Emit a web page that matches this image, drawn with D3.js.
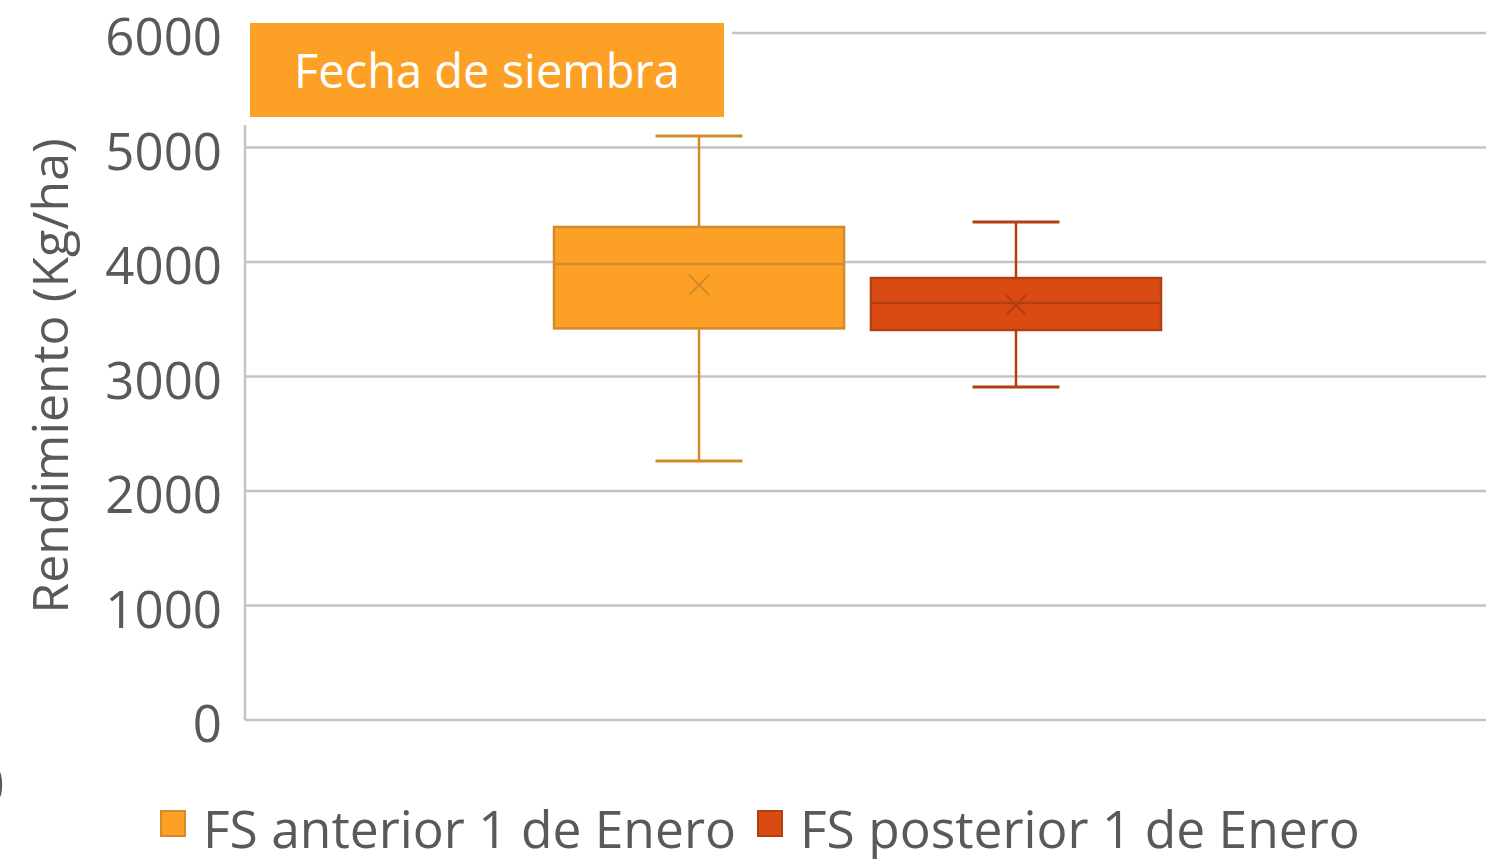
<!DOCTYPE html>
<meta charset="utf-8">
<script src="https://d3js.org/d3.v7.min.js"></script>
<style>
  body { margin: 0; background: #fff; }
  text { font-family: "Open Sans", "Noto Sans", sans-serif; }
</style>
<div id="my_dataviz"></div>
<script>

// data
var series = ["FS anterior 1 de Enero", "FS posterior 1 de Enero"];
var mins    = [2262, 2908];
var q1s     = [3420, 3406];
var medians = [3983, 3642];
var means   = [3799, 3624];
var q3s     = [4306, 3860];
var maxs    = [5100, 4349];
var yTicks  = [0, 1000, 2000, 3000, 4000, 5000, 6000];
var fills   = ["#fca026", "#da4b14"];
var strokes = ["#d38a2b", "#b23f10"];

var width = 1486, height = 859;

var svg = d3.select("#my_dataviz")
  .append("svg")
    .attr("width", width)
    .attr("height", height);

// y scale
var y = d3.scaleLinear()
  .domain([0, 6000])
  .range([720, 33]);

// x scale for the two series inside the single category
var x = d3.scaleBand()
  .domain(series)
  .range([554, 1161])
  .paddingInner(0.085);

// gridlines
svg.selectAll("grid")
  .data(yTicks)
  .enter()
  .append("line")
    .attr("x1", 245)
    .attr("x2", width)
    .attr("y1", function(d) { return y(d) })
    .attr("y2", function(d) { return y(d) })
    .attr("stroke", "#c4c4c4")
    .attr("stroke-width", 2.5);

// left axis line
svg.append("line")
  .attr("x1", 245).attr("x2", 245)
  .attr("y1", 125).attr("y2", y(0))
  .attr("stroke", "#c4c4c4")
  .attr("stroke-width", 2.5);

// y tick labels
svg.selectAll("ylab")
  .data(yTicks)
  .enter()
  .append("text")
    .attr("x", 222)
    .attr("y", function(d) { return y(d) + 22 })
    .attr("text-anchor", "end")
    .attr("font-size", 51)
    .attr("fill", "#595959")
    .text(function(d) { return d });

// y axis title
svg.append("text")
  .attr("transform", "translate(68,376) rotate(-90)")
  .attr("text-anchor", "middle")
  .attr("font-size", 50)
  .attr("fill", "#595959")
  .text("Rendimiento (Kg/ha)");

// cut-off glyph at left edge
svg.append("text")
  .attr("x", -26)
  .attr("y", 804)
  .attr("font-size", 54)
  .attr("fill", "#595959")
  .text("0");

// boxes
var data = series.map(function(s, i) {
  return {name: s, min: mins[i], q1: q1s[i], med: medians[i], mean: means[i], q3: q3s[i], max: maxs[i], fill: fills[i], stroke: strokes[i]};
});

var g = svg.selectAll("box")
  .data(data)
  .enter()
  .append("g");

// whiskers
g.append("line")
  .attr("x1", function(d) { return x(d.name) + x.bandwidth() / 2 })
  .attr("x2", function(d) { return x(d.name) + x.bandwidth() / 2 })
  .attr("y1", function(d) { return y(d.max) })
  .attr("y2", function(d) { return y(d.min) })
  .attr("stroke", function(d) { return d.stroke })
  .attr("stroke-width", 2.5);

g.selectAll("cap")
  .data(function(d) { return [d.min, d.max].map(function(v) { return {v: v, d: d} }) })
  .enter()
  .append("line")
    .attr("x1", function(c) { return x(c.d.name) + x.bandwidth() * 0.35 })
    .attr("x2", function(c) { return x(c.d.name) + x.bandwidth() * 0.65 })
    .attr("y1", function(c) { return y(c.v) })
    .attr("y2", function(c) { return y(c.v) })
    .attr("stroke", function(c) { return c.d.stroke })
    .attr("stroke-width", 3);

// box
g.append("rect")
  .attr("x", function(d) { return x(d.name) })
  .attr("width", x.bandwidth())
  .attr("y", function(d) { return y(d.q3) })
  .attr("height", function(d) { return y(d.q1) - y(d.q3) })
  .attr("fill", function(d) { return d.fill })
  .attr("stroke", function(d) { return d.stroke })
  .attr("stroke-width", 2.5);

// median
g.append("line")
  .attr("x1", function(d) { return x(d.name) })
  .attr("x2", function(d) { return x(d.name) + x.bandwidth() })
  .attr("y1", function(d) { return y(d.med) })
  .attr("y2", function(d) { return y(d.med) })
  .attr("stroke", function(d) { return d.stroke })
  .attr("stroke-width", 2.5);

// mean marker (x)
g.append("path")
  .attr("transform", function(d) { return "translate(" + (x(d.name) + x.bandwidth() / 2) + "," + y(d.mean) + ")" })
  .attr("d", "M-10,-10L10,10M-10,10L10,-10")
  .attr("stroke", function(d) { return d.stroke })
  .attr("stroke-width", 2)
  .attr("fill", "none");

// title box
svg.append("rect")
  .attr("x", 241).attr("y", 16)
  .attr("width", 491).attr("height", 108)
  .attr("fill", "#fff");
svg.append("rect")
  .attr("x", 250).attr("y", 23)
  .attr("width", 474).attr("height", 94)
  .attr("fill", "#fca026");
svg.append("text")
  .attr("x", 487)
  .attr("y", 88)
  .attr("text-anchor", "middle")
  .attr("font-size", 47)
  .attr("fill", "#fff")
  .text("Fecha de siembra");

// legend
var legendX = [160, 757];
var leg = svg.selectAll("legend")
  .data(data)
  .enter()
  .append("g")
    .attr("transform", function(d, i) { return "translate(" + legendX[i] + ",810)" });

leg.append("rect")
  .attr("x", 1).attr("y", 1)
  .attr("width", 24).attr("height", 25)
  .attr("fill", function(d) { return d.fill })
  .attr("stroke", function(d) { return d.stroke })
  .attr("stroke-width", 2);

leg.append("text")
  .attr("x", 43)
  .attr("y", 38)
  .attr("font-size", 51.5)
  .attr("fill", "#595959")
  .text(function(d) { return d.name });

</script>
